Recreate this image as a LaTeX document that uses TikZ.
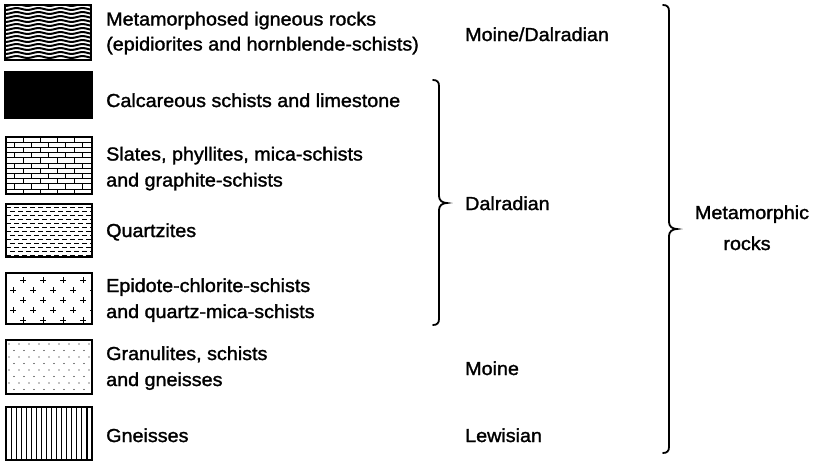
\documentclass[tikz,border=0pt]{standalone}
\usepackage{fontspec}
\setmainfont{Liberation Sans}[FakeStretch=1.05,FakeBold=1.5]
\begin{document}
\begin{tikzpicture}[x=1pt,y=-1pt,
  lbl/.style={anchor=base west,inner sep=0pt,font=\fontsize{18.8}{22}\selectfont},
  lblc/.style={anchor=base,inner sep=0pt,font=\fontsize{18.8}{22}\selectfont},
  frame/.style={draw=black,line width=1.4pt},
  brace/.style={draw=black,line width=1.8pt,line cap=round}]
\useasboundingbox (0,0) rectangle (816,461);
% 1 wavy
\begin{scope}
\clip (5,5) rectangle (91,60);
\foreach \yy in {5,9,...,65}
  \draw[line width=2pt] plot[domain=0:100,samples=80,smooth] (\x,{\yy+0.9*sin(\x*16.3636)});
\end{scope}
\node[frame,minimum width=86pt,minimum height=55pt,inner sep=0pt] (s1) at (48,32.5) {};
% 2 black
\node[frame,fill=black,minimum width=87pt,minimum height=46pt,inner sep=0pt] (s2) at (48.5,95) {};
% 3 brick
\begin{scope}
\clip (6,137) rectangle (92,194);
\foreach \k in {0,...,10} {
  \pgfmathsetmacro{\ya}{137+\k*5.2}
  \pgfmathsetmacro{\yb}{137+(\k+1)*5.2}
  \draw[line width=1pt] (0,\yb) -- (100,\yb);
  \pgfmathsetmacro{\off}{mod(\k,2)*8.5}
  \foreach \j in {0,...,5}
    \draw[line width=1pt] ({6+\off+\j*17},\ya) -- ({6+\off+\j*17},\yb);
}
\end{scope}
\node[frame,minimum width=86pt,minimum height=57pt,inner sep=0pt] (s3) at (49,165.5) {};
% 4 dashes
\begin{scope}
\clip (6,204) rectangle (92,257);
\foreach \k in {0,...,12} {
  \pgfmathsetmacro{\yy}{207.5+\k*4}
  \pgfmathsetmacro{\ph}{mod(\k,2)*4}
  \draw[line width=0.8pt,dash pattern=on 4.5pt off 3.5pt,dash phase=\ph pt] (6,\yy) -- (92,\yy);
}
\end{scope}
\node[frame,minimum width=86pt,minimum height=53pt,inner sep=0pt] (s4) at (49,230.5) {};
% 5 plus
\begin{scope}
\clip (6,273) rectangle (92,324);
\foreach \k in {0,...,4} {
  \pgfmathsetmacro{\yy}{280+\k*10}
  \pgfmathsetmacro{\off}{mod(\k+1,2)*10}
  \foreach \j in {0,...,4}
    \draw[line width=1pt] ({13+\off+\j*20-2.6},\yy) -- ++(5.2,0) ({13+\off+\j*20},\yy-2.6) -- ++(0,5.2);
}
\end{scope}
\node[frame,minimum width=86pt,minimum height=51pt,inner sep=0pt] (s5) at (49,298.5) {};
% 6 dots
\begin{scope}
\clip (6,340) rectangle (92,394);
\foreach \k in {0,...,7} {
  \pgfmathsetmacro{\yy}{344+\k*6.5}
  \pgfmathsetmacro{\off}{mod(\k,2)*5}
  \foreach \j in {0,...,8}
    \fill ({9+\off+\j*10},\yy) circle (0.7);
}
\end{scope}
\node[frame,minimum width=86pt,minimum height=54pt,inner sep=0pt] (s6) at (49,367) {};
% 7 vertical lines
\begin{scope}
\clip (6,407) rectangle (92,460);
\foreach \k in {1,...,16}
  \draw[line width=1.1pt] ({6+\k*5.06},400) -- ({6+\k*5.06},470);
\end{scope}
\node[frame,minimum width=86pt,minimum height=53pt,inner sep=0pt] (s7) at (49,433.5) {};
% labels
\node[lbl] (t1a) at (106,25.5) {Metamorphosed igneous rocks};
\node[lbl] (t1b) at (106,50.5) {(epidiorites and hornblende-schists)};
\node[lbl] (t2) at (106,107) {Calcareous schists and limestone};
\node[lbl] (t3a) at (106,160.5) {Slates, phyllites, mica-schists};
\node[lbl] (t3b) at (106,186.5) {and graphite-schists};
\node[lbl] (t4) at (106,237) {Quartzites};
\node[lbl] (t5a) at (106,292) {Epidote-chlorite-schists};
\node[lbl] (t5b) at (106,318) {and quartz-mica-schists};
\node[lbl] (t6a) at (106,360) {Granulites, schists};
\node[lbl] (t6b) at (106,386) {and gneisses};
\node[lbl] (t7) at (106,442) {Gneisses};
\node[lbl] (g1) at (465,41) {Moine/Dalradian};
\node[lbl] (g2) at (465,210) {Dalradian};
\node[lbl] (g3) at (465,375) {Moine};
\node[lbl] (g4) at (465,442) {Lewisian};
\node[lblc] (m1) at (752,219) {Metamorphic};
\node[lblc] (m2) at (747,250) {rocks};
% braces
\coordinate (dtop) at (433,80);
\coordinate (dtip) at (447,203);
\coordinate (dbot) at (433,325);
\draw[brace] (dtop) .. controls (437,80) and (439,82) .. (439,86) -- (439,196) .. controls (439,200) and (442,203) .. (dtip) .. controls (442,203) and (439,206) .. (439,210) -- (439,319) .. controls (439,323) and (437,325) .. (dbot);
\coordinate (btop) at (663,5);
\coordinate (btip) at (677,229);
\coordinate (bbot) at (663,453);
\draw[brace] (btop) .. controls (667,5) and (669,7) .. (669,11) -- (669,222) .. controls (669,226) and (672,229) .. (btip) .. controls (672,229) and (669,232) .. (669,236) -- (669,447) .. controls (669,451) and (667,453) .. (bbot);
\end{tikzpicture}
\end{document}
